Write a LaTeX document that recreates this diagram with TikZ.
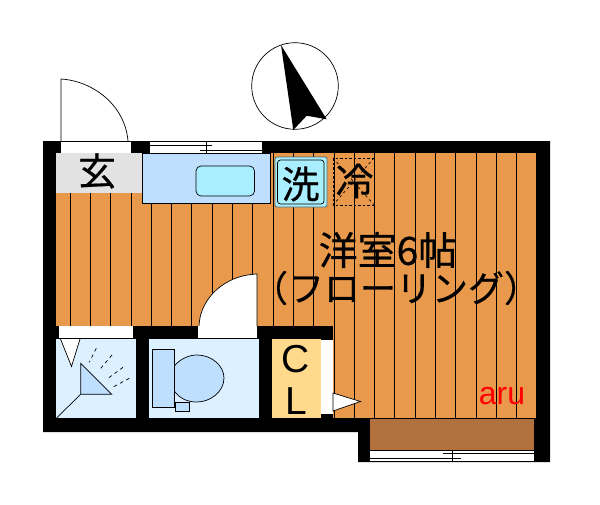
\documentclass[tikz,border=0pt]{standalone}
\usepackage{fontspec}
\setmainfont{Liberation Sans}
\newfontfamily\jpfont[FakeBold=0.5]{Noto Sans CJK JP}
\definecolor{floorc}{HTML}{E9994B}
\definecolor{genkanc}{HTML}{E2E2E2}
\definecolor{kitchenc}{HTML}{BFDFFF}
\definecolor{sinkc}{HTML}{A9EFFF}
\definecolor{wetc}{HTML}{DDF0FF}
\definecolor{closetc}{HTML}{FFD98C}
\definecolor{balconyc}{HTML}{B0713F}
\tikzset{
  thin line/.style={draw=black,line width=0.8pt},
  fine line/.style={draw=black,line width=0.7pt},
  kanji/.style={font=\jpfont\fontsize{38}{38}\selectfont,inner sep=0pt,text=black},
  latin/.style={font=\fontsize{39}{39}\selectfont,inner sep=0pt,text=black},
}
\begin{document}
\begin{tikzpicture}[x=1pt,y=-1pt,line join=miter]
\useasboundingbox (0,0) rectangle (600,504);
\fill[white] (0,0) rectangle (600,504);
% walls
\fill[black] (43,141) -- (550,141) -- (550,462) -- (358,462) -- (358,432) -- (43,432) -- cycle;
% floor
\fill[floorc] (56,153) rectangle (536,418);
\foreach \i in {0,...,22}{
  \draw[fine line] ({70+20.3*\i},153) -- ({70+20.3*\i},418);
}
% inner wall block
\fill[black] (43,326) rectangle (333,432);
% entrance
\fill[genkanc] (56,153) rectangle (142,193);
\draw[fine line,fill=kitchenc] (142.5,153) rectangle (270.5,203);
\draw[fine line,fill=sinkc,rounded corners=5pt] (196,166) rectangle (254.5,196);
% entrance door
\fill[white] (61,141) rectangle (131,153);
\draw[fine line] (61,141) -- (131,141);
\draw[fine line] (61,141) -- (61,79) .. controls (93,81) and (125,105) .. (128,141);
% top window
\fill[white] (150,141) rectangle (262,153);
\draw[fine line] (150,141) -- (262,141);
\draw[fine line] (150,145.5) -- (212,145.5);
\draw[fine line] (200,150.5) -- (262,150.5);
\draw[fine line] (206,141) -- (206,153);
\draw[fine line] (142,153) -- (270,153);
% washer
\draw[draw=black!55!sinkc,line width=0.8pt,fill=sinkc,rounded corners=2pt] (275,157) rectangle (327,207);
\draw[fine line,rounded corners=3pt] (277.5,160) rectangle (324,204);
% fridge
\draw[fine line,dashed,dash pattern=on 2.5pt off 2pt] (333,158) rectangle (374,205);
\draw[fine line,dashed,dash pattern=on 2.5pt off 3pt] (333,158) -- (374,205) (374,158) -- (333,205);
% bath
\fill[wetc] (56,339) rectangle (136,418);
\fill[white] (59,326) rectangle (133,338);
\draw[fine line] (56,338.5) -- (136,338.5);
\draw[fine line,fill=white] (60.5,339) -- (71.5,366.5) -- (80,339);
\draw[fine line] (80.7,394.3) -- (56.5,418);
\draw[fine line,fill=kitchenc] (80.7,363.3) -- (80.7,394.3) -- (111.7,394.3) -- cycle;
\draw[fine line,dash pattern=on 3.5pt off 3.5pt] (96.3,348.3) -- (89.3,362.3);
\draw[fine line,dash pattern=on 3.5pt off 3.5pt] (112,355) -- (99.3,370);
\draw[fine line,dash pattern=on 3.5pt off 3.5pt] (123,367.3) -- (108,378.3);
\draw[fine line,dash pattern=on 3.5pt off 3.5pt] (129.3,378.3) -- (113.7,386.7);
% toilet room
\fill[wetc] (149,339) rectangle (259,418);
\fill[white] (198,326) rectangle (257,338);
\draw[fine line] (198,338.5) -- (259,338.5);
\draw[fine line,fill=white] (257,326) -- (257,274) .. controls (225,275) and (200,298) .. (199,326);
\draw[fine line,fill=kitchenc] (174.3,366) .. controls (181,358) and (190,355) .. (197,355)
  .. controls (212,355) and (224,366) .. (224,378)
  .. controls (224,392) and (210,402) .. (197,402)
  .. controls (188,402) and (180,399) .. (174.3,391) -- cycle;
\draw[fine line,fill=kitchenc] (152.3,349.3) rectangle (174.3,407);
\draw[fine line,fill=kitchenc] (175,402) rectangle (189.7,411.6);
% closet
\fill[closetc] (272,339) rectangle (321,418);
\fill[white] (321,340) rectangle (333,414);
% closet door leaf
\draw[fine line,fill=white] (333,393) -- (360.5,401.5) -- (333,411) -- cycle;
% balcony
\fill[balconyc] (370,418) rectangle (534,450);
\draw[fine line] (370,418) -- (534,418);
\fill[white] (370,450) rectangle (534,461);
\draw[fine line] (370,450.5) -- (534,450.5);
\draw[fine line] (443,453) -- (534,453);
\draw[fine line] (370,458) -- (461,458);
\draw[fine line] (452,450) -- (452,461);
\draw[fine line] (370,461) -- (534,461);
% compass
\draw[fine line] (295,86) circle[radius=43.3];
\fill[black] (281,45) -- (293.3,130) -- (306.7,115.7) -- (326.7,119.3) -- cycle;
% labels
\node[kanji] (genkan) at (97,171) {玄};
\node[kanji] (sentaku) at (300.5,184) {洗};
\node[kanji] (reizo) at (354.5,181) {冷};
\node[kanji,font=\jpfont\fontsize{39}{39}\selectfont] (room) at (388,250) {洋室6帖};
\node[kanji,font=\jpfont\fontsize{36}{36}\selectfont] (floortype) at (396,288) {（フローリング）};
\node[latin] (closetc1) at (295.5,359) {C};
\node[latin] (closetl) at (296,401) {L};
\node[latin,font=\fontsize{32}{32}\selectfont,text=red] (aru) at (502,396) {aru};
\end{tikzpicture}
\end{document}
